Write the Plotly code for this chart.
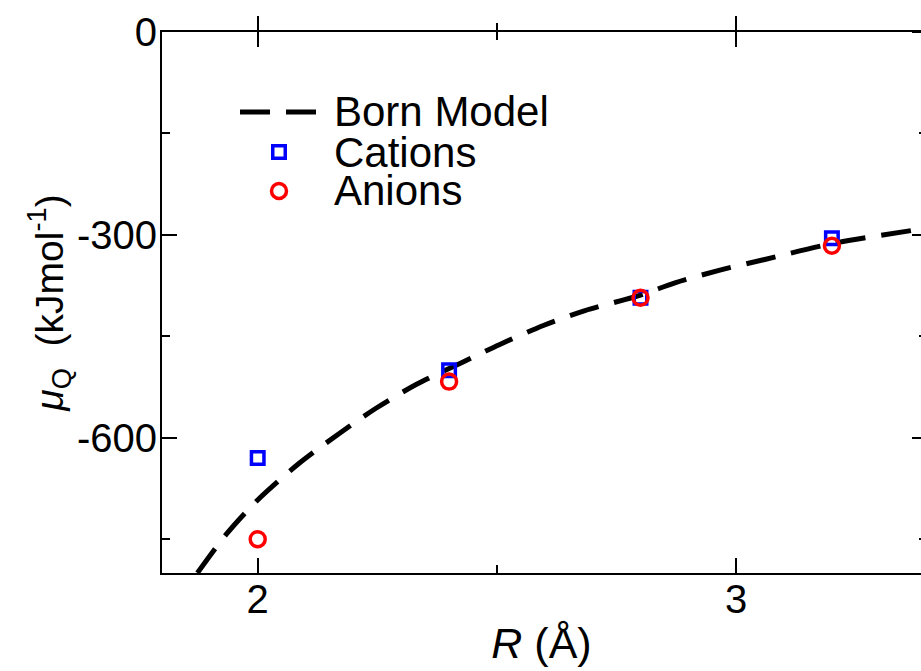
import plotly.graph_objects as go

# ---- data ----
R_ions = [2.0, 2.4, 2.8, 3.2]
cations = [-630, -500, -393, -305]
anions = [-750, -517, -393, -316]

R_born = [1.874, 1.934, 2.0, 2.088, 2.172, 2.248, 2.332, 2.426, 2.506, 2.597,
          2.684, 2.8, 2.872, 2.966, 3.062, 3.2, 3.4]
mu_born = [-800, -743, -692, -637, -593, -556, -521, -489, -462, -434,
           -412, -389, -371, -352, -336, -313, -290]

legend_names = ["Born Model", "Cations", "Anions"]

x_ticks = [2, 3]
y_ticks = [0, -300, -600]

# ---- layout geometry ----
W, H = 921, 671
ML, MT, MB, MR = 162, 32, 98, 0
PW = W - ML - MR
PH = H - MT - MB
px_per_unit = 478.5
XR = [1.8, 1.8 + PW / px_per_unit]
YR = [-800, 0]

FONT = "Liberation Sans, Arial, sans-serif"
BLUE = "#0000FF"
RED = "#FF0000"
DASH = "30px,16px"

def fx(px):
    return (px - ML) / PW

def fy(py):
    return (H - MB - py) / PH

fig = go.Figure()

fig.add_trace(go.Scatter(x=R_born, y=mu_born, mode="lines", name=legend_names[0],
                         line=dict(color="black", width=5, dash=DASH,
                                   shape="spline", smoothing=0.8),
                         showlegend=False, hoverinfo="skip"))
fig.add_trace(go.Scatter(x=R_ions, y=cations, mode="markers", name=legend_names[1],
                         marker=dict(symbol="square-open", size=12.5, color=BLUE,
                                     line=dict(width=3.5, color=BLUE)),
                         showlegend=False))
fig.add_trace(go.Scatter(x=R_ions, y=anions, mode="markers", name=legend_names[2],
                         marker=dict(symbol="circle-open", size=15, color=RED,
                                     line=dict(width=3.5, color=RED)),
                         showlegend=False))

# empty trace so the mirrored tick axes exist
fig.add_trace(go.Scatter(x=[], y=[], xaxis="x2", yaxis="y2", showlegend=False,
                         hoverinfo="skip"))

# legend symbols (drawn on an overlay axis spanning the plot area 0..1)
leg_rows = [fy(112), fy(152), fy(191)]
fig.add_trace(go.Scatter(x=[fx(240), fx(317)], y=[leg_rows[0], leg_rows[0]],
                         xaxis="x3", yaxis="y3", mode="lines",
                         line=dict(color="black", width=5, dash=DASH),
                         showlegend=False, hoverinfo="skip"))
fig.add_trace(go.Scatter(x=[fx(279)], y=[leg_rows[1]], xaxis="x3", yaxis="y3",
                         mode="markers",
                         marker=dict(symbol="square-open", size=12.5, color=BLUE,
                                     line=dict(width=3.5, color=BLUE)),
                         showlegend=False, hoverinfo="skip"))
fig.add_trace(go.Scatter(x=[fx(279)], y=[leg_rows[2]], xaxis="x3", yaxis="y3",
                         mode="markers",
                         marker=dict(symbol="circle-open", size=15, color=RED,
                                     line=dict(width=3.5, color=RED)),
                         showlegend=False, hoverinfo="skip"))

for name, yy in zip(legend_names, leg_rows):
    fig.add_annotation(x=fx(333), y=yy, xref="x domain", yref="y domain",
                       text=name, showarrow=False, xanchor="left", yanchor="middle",
                       borderpad=0,
                       font=dict(family=FONT, size=42, color="black"))

tick_font = dict(family=FONT, size=40, color="black")

fig.update_layout(
    width=W, height=H,
    margin=dict(l=ML, r=MR, t=MT, b=MB, pad=0),
    paper_bgcolor="white", plot_bgcolor="white",
    showlegend=False,
    xaxis=dict(range=XR, tickvals=x_ticks, ticktext=[str(v) for v in x_ticks],
               ticks="inside", ticklen=15, tickwidth=1.5, tickcolor="black",
               minor=dict(tickvals=[2.5], ticks="inside", ticklen=8, tickwidth=1.5,
                          tickcolor="black"),
               showline=True, linewidth=2, linecolor="black", mirror="ticks",
               showgrid=False, zeroline=False, tickfont=tick_font,
               ticklabelstandoff=-10,
               title=dict(text="<i>R</i> (Å)", font=dict(family=FONT, size=43, color="black"),
                          standoff=8)),
    yaxis=dict(range=YR, tickvals=y_ticks, ticktext=[str(v) for v in y_ticks],
               ticks="inside", ticklen=15, tickwidth=1.5, tickcolor="black",
               minor=dict(tickvals=[-150, -450, -750], ticks="inside", ticklen=8,
                          tickwidth=1.5, tickcolor="black"),
               showline=True, linewidth=2, linecolor="black", mirror=False,
               showgrid=False, zeroline=False, tickfont=tick_font,
               ticklabelstandoff=-5,
               title=dict(text="<i>μ</i><sub>Q</sub>&nbsp; (kJmol<sup>-1</sup>)",
                          font=dict(family=FONT, size=39, color="black"),
                          standoff=0)),
    xaxis2=dict(overlaying="x", side="top", anchor="y", range=XR,
                tickvals=x_ticks, ticks="outside", ticklen=15, tickwidth=1.5,
                tickcolor="black",
                minor=dict(tickvals=[2.5], ticks="outside", ticklen=8, tickwidth=1.5,
                           tickcolor="black"),
                showticklabels=False, showline=False, showgrid=False, zeroline=False),
    yaxis2=dict(overlaying="y", anchor="free", position=1.0, side="left", range=YR,
                tickvals=y_ticks, ticks="outside", ticklen=9, tickwidth=1.5,
                tickcolor="black",
                minor=dict(tickvals=[-150, -450, -750], ticks="outside", ticklen=2,
                           tickwidth=1.5, tickcolor="black"),
                showticklabels=False, showline=False, showgrid=False, zeroline=False),
    xaxis3=dict(overlaying="x", range=[0, 1], visible=False),
    yaxis3=dict(overlaying="y", range=[0, 1], visible=False),
)

fig.write_html("out.html")
